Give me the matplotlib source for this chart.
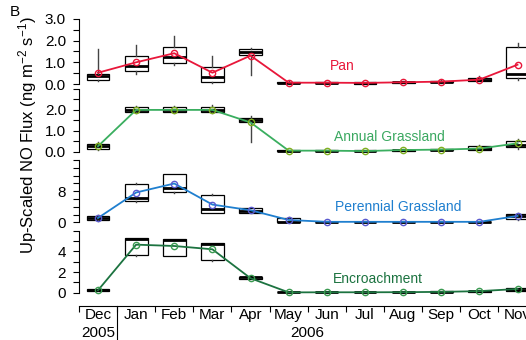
import numpy as np
import matplotlib
matplotlib.use('Agg')
import matplotlib.pyplot as plt

plt.rcParams['font.family'] = ['Liberation Sans', 'DejaVu Sans']
plt.rcParams['mathtext.default'] = 'regular'

# Months on the shared x axis
months = ['Dec', 'Jan', 'Feb', 'Mar', 'Apr', 'May', 'Jun', 'Jul', 'Aug', 'Sep', 'Oct', 'Nov']
years = ['2005', '2006']

# Pan
pan_lo   = [0.14, 0.45, 0.86, 0.03, 0.43, 0.02, 0.02, 0.01, 0.04, 0.06, 0.12, 0.18]
pan_q1   = [0.20, 0.58, 0.98, 0.08, 1.35, 0.03, 0.03, 0.02, 0.06, 0.08, 0.15, 0.26]
pan_med  = [0.35, 0.85, 1.26, 0.34, 1.46, 0.05, 0.05, 0.04, 0.08, 0.10, 0.20, 0.46]
pan_q3   = [0.46, 1.28, 1.69, 0.80, 1.60, 0.09, 0.08, 0.07, 0.11, 0.14, 0.28, 1.69]
pan_hi   = [1.60, 1.80, 2.20, 1.31, 1.68, 0.12, 0.10, 0.09, 0.13, 0.17, 0.35, 1.88]
pan_mean = [0.52, 1.00, 1.42, 0.52, 1.31, 0.06, 0.06, 0.05, 0.08, 0.11, 0.20, 0.89]

# Annual Grassland
ann_lo   = [0.10, 1.85, 1.85, 1.85, 0.48, 0.02, 0.02, 0.01, 0.04, 0.06, 0.08, 0.15]
ann_q1   = [0.15, 1.90, 1.90, 1.90, 1.40, 0.03, 0.03, 0.02, 0.05, 0.08, 0.10, 0.21]
ann_med  = [0.25, 2.00, 2.00, 2.00, 1.50, 0.05, 0.04, 0.03, 0.07, 0.10, 0.15, 0.30]
ann_q3   = [0.36, 2.12, 2.12, 2.12, 1.61, 0.07, 0.07, 0.06, 0.10, 0.13, 0.25, 0.53]
ann_hi   = [0.45, 2.20, 2.20, 2.25, 1.70, 0.08, 0.08, 0.07, 0.12, 0.15, 0.30, 0.60]
ann_mean = [0.26, 2.00, 2.00, 2.00, 1.40, 0.05, 0.05, 0.03, 0.08, 0.10, 0.15, 0.40]

# Perennial Grassland
per_lo   = [0.40, 5.30, 7.60, 2.30, 2.40, 0.05, 0.00, 0.00, 0.00, 0.00, 0.00, 0.70]
per_q1   = [0.60, 5.50, 7.80, 2.50, 2.50, 0.10, 0.02, 0.02, 0.02, 0.02, 0.02, 0.80]
per_med  = [1.20, 6.35, 8.70, 3.50, 3.00, 0.20, 0.08, 0.08, 0.08, 0.08, 0.08, 1.50]
per_q3   = [1.63, 9.96, 12.3, 7.05, 3.60, 1.20, 0.20, 0.20, 0.20, 0.20, 0.20, 2.20]
per_hi   = [1.80, 10.2, 12.5, 7.20, 3.70, 1.30, 0.25, 0.25, 0.25, 0.25, 0.25, 2.50]
per_mean = [1.10, 7.65, 9.96, 4.55, 3.10, 0.60, 0.12, 0.12, 0.12, 0.12, 0.12, 1.63]

# Encroachment
enc_lo   = [0.12, 3.60, 3.55, 3.10, 1.35, 0.00, 0.00, 0.00, 0.00, 0.02, 0.06, 0.15]
enc_q1   = [0.14, 3.65, 3.58, 3.16, 1.37, 0.02, 0.02, 0.02, 0.02, 0.04, 0.08, 0.17]
enc_med  = [0.25, 5.20, 5.10, 4.70, 1.50, 0.05, 0.04, 0.04, 0.05, 0.08, 0.12, 0.30]
enc_q3   = [0.33, 5.27, 5.17, 4.78, 1.56, 0.08, 0.07, 0.07, 0.08, 0.12, 0.20, 0.43]
enc_hi   = [0.35, 5.30, 5.20, 4.80, 1.60, 0.10, 0.09, 0.09, 0.10, 0.14, 0.22, 0.46]
enc_mean = [0.23, 4.65, 4.52, 4.20, 1.40, 0.03, 0.04, 0.04, 0.05, 0.08, 0.15, 0.36]

panels = [
    dict(name='Pan', data=(pan_lo, pan_q1, pan_med, pan_q3, pan_hi, pan_mean),
         line='#e8173a', mark='#e8173a', text='#e8173a',
         vmax=3.0, step=0.5, labels=[0, 1, 2, 3], fmt='%.1f', px=(19, 84), tpos=(6.4, 0.83)),
    dict(name='Annual Grassland', data=(ann_lo, ann_q1, ann_med, ann_q3, ann_hi, ann_mean),
         line='#3aae5f', mark='#7fb020', text='#3aa860',
         vmax=3.0, step=0.5, labels=[0, 1, 2], fmt='%.1f', px=(89, 151.7), tpos=(7.63, 0.7)),
    dict(name='Perennial Grassland', data=(per_lo, per_q1, per_med, per_q3, per_hi, per_mean),
         line='#1f7fcf', mark='#5a5acf', text='#1f7fcf',
         vmax=16, step=2, labels=[0, 8], fmt='%d', px=(160, 222.3), tpos=(7.87, 3.85)),
    dict(name='Encroachment', data=(enc_lo, enc_q1, enc_med, enc_q3, enc_hi, enc_mean),
         line='#1c7340', mark='#3a9a50', text='#1c7340',
         vmax=6, step=1, labels=[0, 2, 4], fmt='%d', px=(230.7, 292.7), tpos=(7.34, 1.36)),
]

W, H = 526, 340
fig = plt.figure(figsize=(W / 100, H / 100), dpi=100)

x = np.arange(len(months))
ax_left_px = 78.9
ax_w_px = 12 * 38.14
pad_px = 3.2

axes = []
for p in panels:
    top_px, bot_px = p['px']
    ppu = (bot_px - top_px) / p['vmax']
    pad = pad_px / ppu
    rect = [ax_left_px / W, 1 - (bot_px + pad_px) / H,
            ax_w_px / W, (bot_px - top_px + 2 * pad_px) / H]
    ax = fig.add_axes(rect)
    ax.patch.set_alpha(0)
    lo, q1, med, q3, hi, mean = p['data']
    stats = [dict(whislo=lo[i], q1=q1[i], med=med[i], q3=q3[i], whishi=hi[i], fliers=[])
             for i in range(len(months))]
    ax.bxp(stats, positions=x, widths=0.6, showfliers=False, showcaps=False,
           patch_artist=True,
           boxprops=dict(facecolor='white', edgecolor='black', linewidth=0.9),
           medianprops=dict(color='black', linewidth=2.0),
           whiskerprops=dict(color='#444444', linewidth=1.0))
    ax.plot(x, mean, '-o', color=p['line'], lw=1.3, ms=4.5, mfc='none',
            mec=p['mark'], mew=1.0, zorder=5)
    ax.text(p['tpos'][0], p['tpos'][1], p['name'], color=p['text'], fontsize=10,
            ha='center', va='center')

    ax.set_xlim(-0.5, 11.5)
    ax.set_ylim(-pad, p['vmax'] + pad)
    for s in ['top', 'right', 'bottom']:
        ax.spines[s].set_visible(False)
    ax.spines['left'].set_bounds(0, p['vmax'])
    ax.spines['left'].set_linewidth(0.8)

    ticks = np.arange(0, p['vmax'] + p['step'] / 2, p['step'])
    ax.set_yticks(p['labels'])
    ax.set_yticklabels([p['fmt'] % v for v in p['labels']])
    ax.set_yticks([t for t in ticks if t not in p['labels']], minor=True)
    ax.tick_params(axis='y', which='both', direction='out', length=4.3, width=0.8,
                   labelsize=11, pad=5)
    ax.tick_params(axis='x', which='both', bottom=False, labelbottom=False)
    axes.append(ax)

# shared month axis under the last panel
ax4 = axes[-1]
ax4.spines['bottom'].set_visible(True)
ax4.spines['bottom'].set_position(('outward', 7.5))
ax4.spines['bottom'].set_bounds(-0.5, 11.5)
ax4.spines['bottom'].set_linewidth(0.8)
ax4.set_xticks(np.arange(-0.5, 11.0, 1.0))
ax4.set_xticklabels([])
ax4.set_xticks(x, minor=True)
ax4.set_xticklabels(months, minor=True)
ax4.tick_params(axis='x', which='major', bottom=True, direction='out', length=4, width=0.8)
ax4.tick_params(axis='x', which='minor', bottom=True, length=0, labelbottom=True,
                labelsize=11, pad=1.0)

ax_h_px = (292.7 - 230.7) + 2 * pad_px
ax_bot_px = 292.7 + pad_px
sep_top = (ax_bot_px - 306) / ax_h_px
ax4.axvline(0.5, ymin=(ax_bot_px - 341) / ax_h_px, ymax=sep_top, color='black',
            lw=0.8, clip_on=False)
year_y = (ax_bot_px - 333) / ax_h_px
ax4.text(0, year_y, years[0], transform=ax4.get_xaxis_transform(), fontsize=11,
         ha='center', va='center')
ax4.text(5.5, year_y, years[1], transform=ax4.get_xaxis_transform(), fontsize=11,
         ha='center', va='center')

fig.text(28 / W, 1 - 135 / H, 'Up-Scaled NO Flux (ng m$^{-2}$ s$^{-1}$)',
         rotation=90, ha='center', va='center', fontsize=12)
fig.text(15 / W, 1 - 12 / H, 'B', fontsize=11, ha='center', va='center')

fig.savefig('out.png', dpi=100)
